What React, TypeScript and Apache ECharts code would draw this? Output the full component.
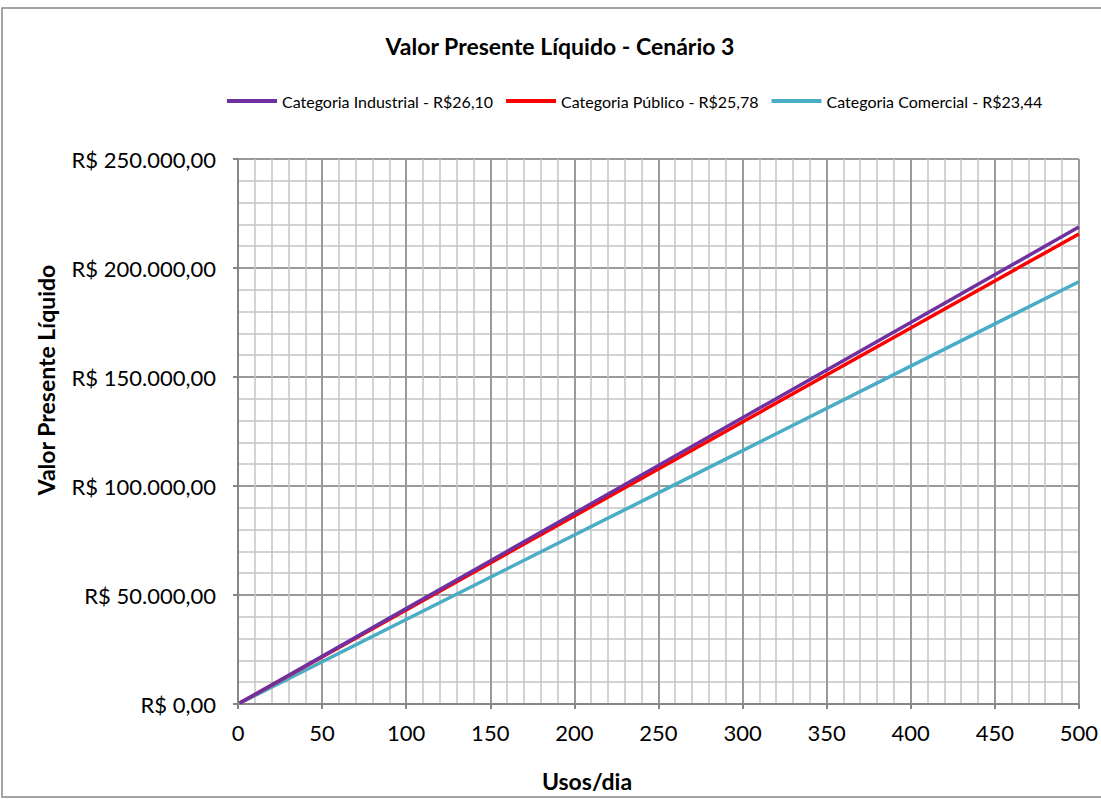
import React, { useEffect, useRef } from "react";
import * as echarts from "echarts";

const usos = [1, 100, 200, 300, 400, 500];
const industrial = [440, 43760, 87500, 131300, 175000, 218800];
const publico = [430, 43120, 86250, 129400, 172500, 215600];
const comercial = [390, 38740, 77500, 116200, 155000, 193700];
const seriesNames = [
  "Categoria Industrial - R$26,10",
  "Categoria Público - R$25,78",
  "Categoria Comercial - R$23,44",
];
const colors = ["#7030A0", "#FF0000", "#4BACC6"];

const FONT = "Lato, 'Open Sans', sans-serif";

function fmt(v: number) {
  const int = Math.round(v).toString().replace(/\B(?=(\d{3})+(?!\d))/g, ".");
  return "R$ " + int + ",00";
}

export default function App() {
  const ref = useRef<HTMLDivElement>(null);
  useEffect(() => {
    const chart = echarts.init(ref.current!, null, { renderer: "svg" });
    const datasets = [industrial, publico, comercial];
    chart.setOption({
      animation: false,
      backgroundColor: "#fff",
      legend: {
        top: 88,
        left: 222,
        itemWidth: 50,
        itemHeight: 4,
        itemGap: 13,
        icon: "rect",
        textStyle: { fontFamily: FONT, fontSize: 16, color: "#000" },
        data: seriesNames,
      },
      grid: { left: 238, right: 22, top: 159, bottom: 95, containLabel: false },
      xAxis: {
        type: "value",
        min: 0,
        max: 500,
        interval: 50,
        axisLine: { show: true, lineStyle: { color: "#868686", width: 2 } },
        axisTick: { show: true, length: 5, lineStyle: { color: "#868686", width: 2 } },
        axisLabel: { fontFamily: FONT, fontSize: 22, color: "#000", margin: 17 },
        splitLine: { show: true, lineStyle: { color: "#9A9A9A", width: 2 } },
        minorTick: { show: false, splitNumber: 5 },
        minorSplitLine: { show: true, lineStyle: { color: "#C4C4C4", width: 1.5 } },
      },
      yAxis: {
        type: "value",
        min: 0,
        max: 250000,
        interval: 50000,
        axisLine: { show: true, lineStyle: { color: "#868686", width: 2 } },
        axisTick: { show: true, length: 5, lineStyle: { color: "#868686", width: 2 } },
        axisLabel: { fontFamily: FONT, fontSize: 22, color: "#000", margin: 22, formatter: (v: number) => fmt(v) },
        splitLine: { show: true, lineStyle: { color: "#9A9A9A", width: 2 } },
        minorTick: { show: false, splitNumber: 5 },
        minorSplitLine: { show: true, lineStyle: { color: "#C4C4C4", width: 1.5 } },
      },
      series: datasets.map((d, i) => ({
        type: "line",
        name: seriesNames[i],
        data: usos.map((x, j) => [x, d[j]]),
        showSymbol: false,
        symbol: "none",
        lineStyle: { color: colors[i], width: 3.5 },
        itemStyle: { color: colors[i] },
        z: 10 - i,
      })),
      graphic: [
        {
          type: "rect",
          shape: { x: 2, y: 8, width: 1110, height: 789 },
          style: { fill: "none", stroke: "#888", lineWidth: 1.5 },
          silent: true,
        },
        {
          type: "text",
          x: 560,
          y: 46,
          style: {
            text: "Valor Presente Líquido - Cenário 3",
            fontFamily: FONT,
            fontSize: 23,
            fontWeight: "bold",
            fill: "#000",
            align: "center",
            verticalAlign: "middle",
          },
        },
        {
          type: "text",
          x: 587,
          y: 781,
          style: {
            text: "Usos/dia",
            fontFamily: FONT,
            fontSize: 23,
            fontWeight: "bold",
            fill: "#000",
            align: "center",
            verticalAlign: "middle",
          },
        },
        {
          type: "text",
          x: 46,
          y: 380,
          rotation: Math.PI / 2,
          style: {
            text: "Valor Presente Líquido",
            fontFamily: FONT,
            fontSize: 23,
            fontWeight: "bold",
            fill: "#000",
            align: "center",
            verticalAlign: "middle",
          },
        },
      ],
    });
    return () => chart.dispose();
  }, []);
  return (
    <div
      ref={ref}
      style={{ position: "absolute", left: 0, top: 0, width: 1101, height: 799 }}
    />
  );
}
